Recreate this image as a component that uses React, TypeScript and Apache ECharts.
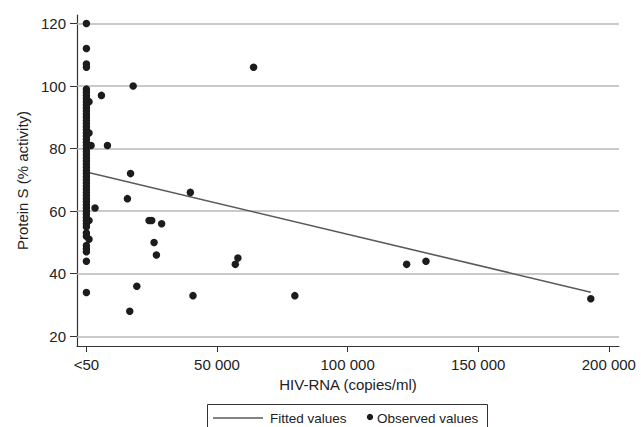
import React, { useEffect, useRef } from "react";
import * as echarts from "echarts";

// Dense column at HIV-RNA "<50" (coded as 0)
const belowDetectionValues = [
  120, 112, 107, 106, 99, 98, 97, 96, 95, 94, 93, 92, 91, 90, 89, 88, 87, 86, 85, 84,
  83, 82, 81, 80, 79, 78, 77, 76, 75, 74, 73, 72, 71, 70, 69, 68, 67, 66, 65, 64, 63,
  62, 61, 60, 59, 58, 57, 56, 55, 53, 52, 49, 48, 47, 44, 34,
];
// Slightly offset points next to the column
const nearColumnPoints: [number, number][] = [
  [1000, 95], [1000, 85], [1000, 57], [1000, 51], [1800, 81],
];
// Remaining observed values [HIV-RNA, Protein S]
const otherPoints: [number, number][] = [
  [3300, 61], [5750, 97], [8050, 81], [15700, 64], [16600, 28], [16900, 72],
  [17900, 100], [19300, 36], [24000, 57], [25000, 57], [25900, 50], [26800, 46],
  [28800, 56], [39800, 66], [40800, 33], [57000, 43], [58000, 45], [64000, 106],
  [79800, 33], [122600, 43], [130000, 44], [193100, 32],
];
// Fitted regression line end points
const fittedLine: [number, number][] = [
  [0, 72.5],
  [193100, 34.1],
];
const xTicks = [0, 50000, 100000, 150000, 200000];
const yTicks = [20, 40, 60, 80, 100, 120];
const X_MIN = -3600;
const X_MAX = 203900;

const FONT = "'Liberation Sans', Arial, Helvetica, sans-serif";
const TEXT = "#222";
const GRID_COLOR = "#b8b8b8";

function fmtX(v: number): string {
  if (v === 0) return "<50";
  return String(v).replace(/\B(?=(\d{3})+(?!\d))/g, " ");
}

export default function App() {
  const ref = useRef<HTMLDivElement>(null);
  useEffect(() => {
    if (!ref.current) return;
    const chart = echarts.init(ref.current, null, { renderer: "svg" });
    const observed = [
      ...belowDetectionValues.map((v) => [0, v]),
      ...nearColumnPoints,
      ...otherPoints,
    ];
    chart.setOption({
      animation: false,
      backgroundColor: "#fff",
      grid: { left: 77, right: 22, top: 15, bottom: 81, containLabel: false },
      xAxis: {
        type: "value",
        min: X_MIN,
        max: X_MAX,
        name: "HIV-RNA (copies/ml)",
        nameLocation: "middle",
        nameGap: 31,
        nameTextStyle: { fontFamily: FONT, fontSize: 15, color: TEXT },
        axisLine: { show: true, onZero: false, lineStyle: { color: "#333", width: 1.2 } },
        axisTick: { show: true, length: 6, customValues: xTicks, lineStyle: { color: "#333" } },
        axisLabel: {
          customValues: xTicks,
          formatter: fmtX,
          margin: 11,
          fontFamily: FONT,
          fontSize: 15,
          color: TEXT,
        },
        splitLine: { show: false },
      },
      yAxis: {
        type: "value",
        min: 16.9,
        max: 122.7,
        name: "Protein S (% activity)",
        nameLocation: "middle",
        nameGap: 46,
        nameTextStyle: { fontFamily: FONT, fontSize: 15, color: TEXT },
        axisLine: { show: true, onZero: false, lineStyle: { color: "#333", width: 1.2 } },
        axisTick: { show: true, length: 7, customValues: yTicks, lineStyle: { color: "#333" } },
        axisLabel: {
          customValues: yTicks,
          margin: 11,
          fontFamily: FONT,
          fontSize: 15,
          color: TEXT,
        },
        splitLine: { show: false },
      },
      series: [
        {
          name: "Fitted values",
          type: "line",
          data: fittedLine,
          symbol: "none",
          lineStyle: { color: "#5a5a5a", width: 1.6 },
          z: 3,
          markLine: {
            silent: true,
            z: 1,
            symbol: ["none", "none"],
            label: { show: false },
            emphasis: { disabled: true },
            lineStyle: { color: GRID_COLOR, width: 1.5, type: "solid", opacity: 1 },
            data: yTicks.map((v) => ({ yAxis: v })),
          },
        },
        {
          name: "Observed values",
          type: "scatter",
          data: observed,
          symbol: "circle",
          symbolSize: 7.5,
          itemStyle: { color: "#1c1c1c", opacity: 1 },
          z: 4,
        },
      ],
      graphic: [
        {
          type: "rect",
          shape: { x: 207.5, y: 404.5, width: 280, height: 40 },
          style: { fill: "#fff", stroke: "#333", lineWidth: 1 },
          z: 10,
        },
        {
          type: "line",
          shape: { x1: 213, y1: 418, x2: 263, y2: 418 },
          style: { stroke: "#5a5a5a", lineWidth: 1.6 },
          z: 11,
        },
        {
          type: "text",
          x: 270,
          y: 418,
          style: {
            text: "Fitted values",
            fontFamily: FONT,
            fontSize: 13.5,
            fill: TEXT,
            verticalAlign: "middle",
            align: "left",
          },
          z: 11,
        },
        {
          type: "circle",
          shape: { cx: 370, cy: 417, r: 3.2 },
          style: { fill: "#1c1c1c" },
          z: 11,
        },
        {
          type: "text",
          x: 377,
          y: 418,
          style: {
            text: "Observed values",
            fontFamily: FONT,
            fontSize: 13.5,
            fill: TEXT,
            verticalAlign: "middle",
            align: "left",
          },
          z: 11,
        },
      ],
    });
    return () => chart.dispose();
  }, []);
  return (
    <div
      ref={ref}
      style={{ position: "absolute", left: 0, top: 0, width: 641, height: 427 }}
    />
  );
}
